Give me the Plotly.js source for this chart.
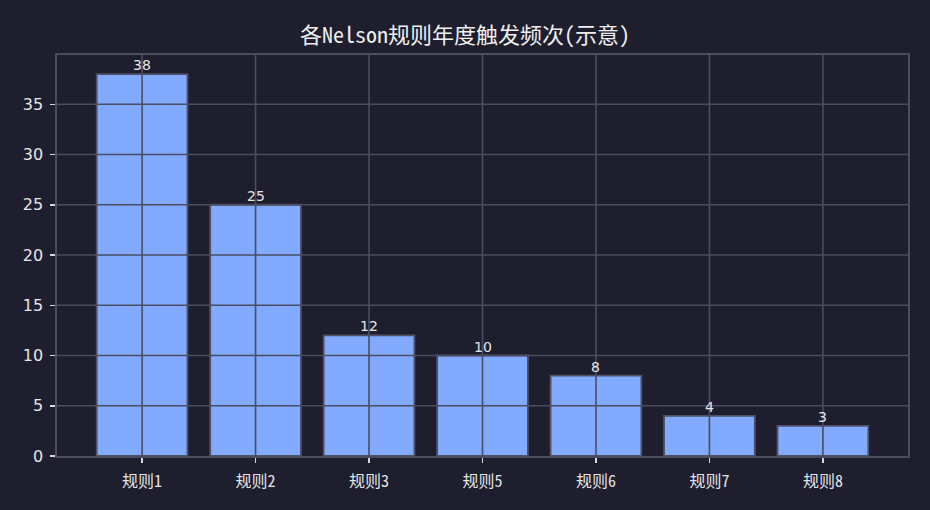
<!DOCTYPE html>
<html>
<head>
<meta charset="utf-8">
<script src="https://cdn.plot.ly/plotly-3.0.1.min.js"></script>
<style>
  html, body { margin: 0; padding: 0; background: #1e1e2e; }
  #graph { width: 930px; height: 510px; }
</style>
</head>
<body>
<div id="graph"></div>
<script>
const categories = ['规则1', '规则2', '规则3', '规则5', '规则6', '规则7', '规则8'];
const counts = [38, 25, 12, 10, 8, 4, 3];
const yTicks = [0, 5, 10, 15, 20, 25, 30, 35];

const fontFamily = '"Noto Sans Mono CJK SC", "Noto Sans CJK SC", "DejaVu Sans Mono", sans-serif';
const numFont = '"DejaVu Sans", sans-serif';
const gridColor = '#4a4d62';
const bg = '#1e1e2e';

// matplotlib draws the grid over the bars, so grid lines go in as shapes on top
const shapes = [];
yTicks.forEach(function(v) {
  if (v === 0) return;
  shapes.push({type: 'line', xref: 'paper', yref: 'y', x0: 0, x1: 1, y0: v, y1: v,
               line: {color: gridColor, width: 1.6}, layer: 'above'});
});
categories.forEach(function(c) {
  shapes.push({type: 'line', xref: 'x', yref: 'paper', x0: c, x1: c, y0: 0, y1: 1,
               line: {color: gridColor, width: 1.6}, layer: 'above'});
});

// value labels as annotations so they sit above the grid lines
const annotations = categories.map(function(c, i) {
  return {x: c, y: counts[i], xref: 'x', yref: 'y', text: String(counts[i]),
          showarrow: false, yanchor: 'bottom', yshift: -1,
          font: {family: numFont, size: 14, color: '#e6e6e6'}};
});

const trace = {
  type: 'bar',
  x: categories,
  y: counts,
  width: 0.8,
  marker: {color: '#82aaff', line: {color: '#4f5266', width: 1.8}},
  hoverinfo: 'x+y'
};

const layout = {
  width: 930,
  height: 510,
  paper_bgcolor: bg,
  plot_bgcolor: bg,
  margin: {l: 57, r: 22, t: 55, b: 54},
  title: {
    text: '各Nelson规则年度触发频次(示意)',
    x: 0.5, xanchor: 'center',
    y: 0.93, yanchor: 'middle',
    font: {family: fontFamily, size: 22, color: '#f0f0f0'}
  },
  font: {family: fontFamily, color: '#e6e6e6'},
  bargap: 0.2,
  showlegend: false,
  xaxis: {
    type: 'category',
    range: [-0.75, 6.75],
    showgrid: false,
    showline: true, mirror: true, linecolor: gridColor, linewidth: 1.6,
    ticks: 'outside', ticklen: 5, tickwidth: 1.5, tickcolor: '#d8d8d8',
    ticklabelstandoff: 5,
    tickfont: {family: fontFamily, size: 16, color: '#e6e6e6'},
    zeroline: false
  },
  yaxis: {
    range: [0, 39.9],
    tickvals: yTicks,
    showgrid: false,
    showline: true, mirror: true, linecolor: gridColor, linewidth: 1.6,
    ticks: 'outside', ticklen: 5, tickwidth: 1.5, tickcolor: '#d8d8d8',
    ticklabelstandoff: 4,
    tickfont: {family: numFont, size: 16, color: '#e6e6e6'},
    zeroline: false
  },
  shapes: shapes,
  annotations: annotations
};

Plotly.newPlot('graph', [trace], layout, {displayModeBar: false, staticPlot: true});
</script>
</body>
</html>
